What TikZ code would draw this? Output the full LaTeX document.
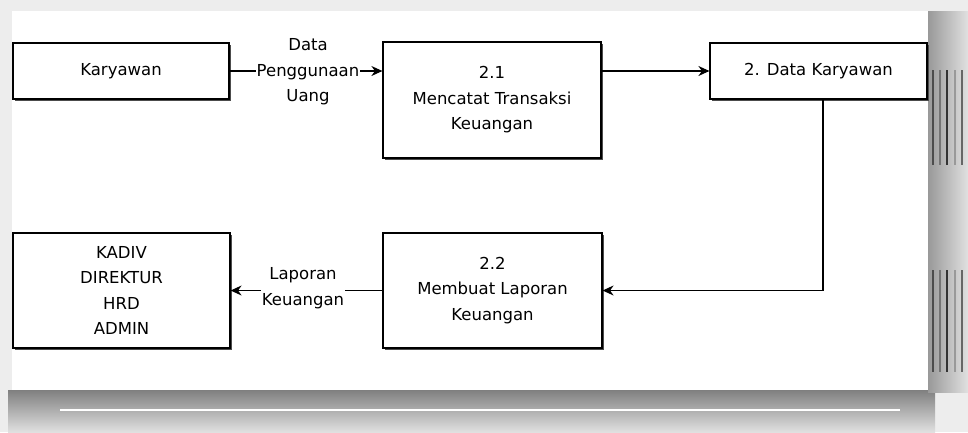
\documentclass[tikz,border=0pt]{standalone}
\usepackage{fontspec}
\setmainfont{DejaVu Sans}
\usetikzlibrary{arrows.meta,shadows,calc}
\begin{document}
\begin{tikzpicture}[x=1pt,y=-1pt,
  box/.style={draw=black,line width=1.2pt,fill=white,align=center,inner sep=0pt,
    font=\fontsize{16.5}{25.5}\selectfont,
    drop shadow={shadow xshift=1.6pt,shadow yshift=-1.6pt,fill=black!70,opacity=1}},
  lbl/.style={fill=white,align=center,inner sep=1pt,font=\fontsize{16.5}{25.5}\selectfont},
  flow/.style={line width=1.1pt,-{Stealth[length=11pt,width=10pt]}}]
\useasboundingbox (0,0) rectangle (968,432);
% page background and shadow frame
\fill[black!7] (0,0) rectangle (968,432);
\shade[top color=black!50,bottom color=black!12] (8,390) rectangle (935,432);
\draw[white,line width=1.5pt] (60,410) -- (900,410);
\shade[left color=black!40,right color=black!12] (928,11) rectangle (968,392);
\foreach \xx/\cc in {933/70,940/55,947/80,955/40,962/60}{
  \draw[black!\cc,line width=1.6pt] (\xx,70) -- (\xx,165);
  \draw[black!\cc,line width=1.6pt] (\xx,270) -- (\xx,372);
}
\fill[white] (12,11) rectangle (928,390);
% nodes
\node[box,minimum width=216pt,minimum height=56pt] (kar) at (121,71) {Karyawan};
\node[box,minimum width=218pt,minimum height=116pt] (t21) at (492,100) {2.1\\Mencatat Transaksi\\Keuangan};
\node[box,minimum width=217pt,minimum height=56pt] (dk) at (818.5,71) {2. Data Karyawan};
\node[box,minimum width=219pt,minimum height=115pt] (t22) at (492.5,290.5) {2.2\\Membuat Laporan\\Keuangan};
\node[box,minimum width=217pt,minimum height=115pt] (kadiv) at (121.5,290.5) {KADIV\\DIREKTUR\\HRD\\ADMIN};
% connectors
\draw[flow] (kar.east) -- (kar.east -| t21.west);
\node[lbl] (lbl1) at (308,72) {Data\\Penggunaan\\Uang};
\draw[flow] (dk.west -| t21.east) -- (dk.west);
\draw[flow] ($(dk.south)+(4.5,0)$) |- (t22.east);
\draw[flow] (t22.west) -- (kadiv.east);
\node[lbl] (lbl2) at (303,288) {Laporan\\Keuangan};
\end{tikzpicture}
\end{document}
